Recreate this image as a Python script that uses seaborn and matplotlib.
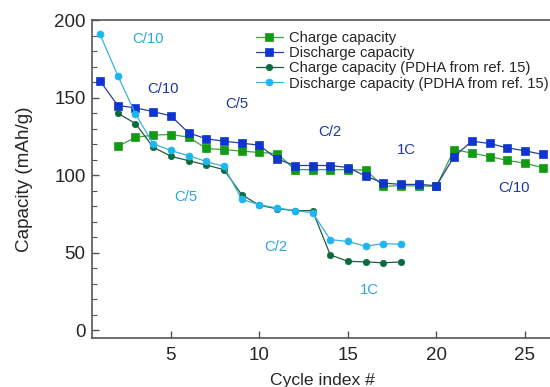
import numpy as np
import pandas as pd
import matplotlib
matplotlib.use("Agg")
import matplotlib.pyplot as plt
from matplotlib.ticker import MultipleLocator
import seaborn as sns

cycles = list(range(1, 27))
charge = [np.nan, 118.5, 124.3, 125.8, 126.2, 124.5, 117.2, 116.4, 115.5, 114.6, 113.9,
          103.6, 103.5, 103.5, 103.5, 103.3, 92.8, 93.2, 93.0, 92.8, 116.5, 114.2, 112.0,
          109.5, 107.7, 104.8]
discharge = [160.8, 144.9, 143.4, 141.0, 138.2, 127.3, 123.4, 121.9, 120.6, 119.3, 110.4,
             106.2, 106.2, 106.2, 104.9, 99.4, 94.9, 94.0, 94.0, 93.2, 112.0, 121.9, 120.4,
             117.6, 115.7, 113.3]
pdha_cycles = list(range(1, 19))
pdha_charge = [np.nan, 139.9, 133.3, 118.0, 112.2, 109.3, 106.5, 103.5, 87.4, 80.5, 78.3,
               77.1, 77.1, 48.5, 44.4, 44.0, 43.4, 44.0]
pdha_discharge = [190.8, 164.2, 139.5, 120.2, 115.9, 112.5, 108.8, 105.6, 84.4, 80.9, 78.8,
                  77.1, 75.8, 58.4, 57.2, 54.1, 55.8, 55.4]

labels = ["Charge capacity", "Discharge capacity",
          "Charge capacity (PDHA from ref. 15)", "Discharge capacity (PDHA from ref. 15)"]

rate_texts = ["C/10", "C/10", "C/5", "C/5", "C/2", "C/2", "1C", "1C", "C/10"]
rate_x = [3.7, 4.55, 8.7, 5.85, 14.0, 10.9, 18.3, 16.2, 24.4]
rate_y = [188, 155.8, 146, 86, 128, 53.4, 116.5, 25.8, 91.4]
rate_kind = ["pdha", "ours", "ours", "pdha", "ours", "pdha", "ours", "pdha", "ours"]

sns.set_style("ticks")
plt.rcParams["font.family"] = ["Liberation Sans", "DejaVu Sans"]

fig = plt.figure(figsize=(5.5, 3.87), dpi=100)
ax = fig.add_axes([0.167, 0.127, 0.84, 0.821])

c_green = "#139a13"
c_blue = "#0e36cf"
c_dgreen = "#0b6b3a"
c_lblue = "#1db6f0"

series = [
    (cycles, charge, c_green, "#3aa33a", "s", 6.3, labels[0]),
    (cycles, discharge, c_blue, "#27409f", "s", 6.3, labels[1]),
    (pdha_cycles, pdha_charge, c_dgreen, "#1d5e3e", "o", 4.6, labels[2]),
    (pdha_cycles, pdha_discharge, c_lblue, "#3ab0de", "o", 5.0, labels[3]),
]
for xs, ys, mc, lc, mk, ms, lab in series:
    df = pd.DataFrame({"x": xs, "y": ys}).dropna()
    sns.lineplot(data=df, x="x", y="y", ax=ax, color=lc, lw=0.9, marker=mk,
                 markersize=ms, markerfacecolor=mc, markeredgecolor=mc,
                 markeredgewidth=0.5, label=lab)

for t, x, y, k in zip(rate_texts, rate_x, rate_y, rate_kind):
    ax.text(x, y, t, color="#2aa6df" if k == "pdha" else "#1e3799",
            fontsize=10.7, ha="center", va="center")

ax.set_xlim(0.537, 26.63)
ax.set_ylim(-5, 200)
ax.set_xticks([5, 10, 15, 20, 25])
ax.set_yticks([0, 50, 100, 150, 200])
ax.yaxis.set_minor_locator(MultipleLocator(10))
ax.tick_params(axis="both", which="major", direction="in", length=5, width=1,
               color="#555555", labelsize=13.5)
ax.tick_params(axis="x", which="major", pad=6.3)
ax.tick_params(axis="y", which="major", pad=4.5)
ax.tick_params(axis="y", which="minor", direction="in", length=3.5, width=0.8,
               color="#555555")
for s in ["left", "bottom", "top", "right"]:
    ax.spines[s].set_color("#555555")
    ax.spines[s].set_linewidth(1.2)

ax.set_xlabel("Cycle index #", fontsize=12.6, labelpad=7)
ax.set_ylabel("Capacity (mAh/g)", fontsize=13.6, labelpad=15)

leg = ax.legend(loc="upper left", bbox_to_anchor=(256 / 550, 1 - 31 / 387),
                bbox_transform=fig.transFigure, frameon=False, fontsize=10.6,
                handlelength=1.8, handletextpad=0.42, labelspacing=0.08,
                borderpad=0, borderaxespad=0)

fig.savefig("out.png", dpi=100)
